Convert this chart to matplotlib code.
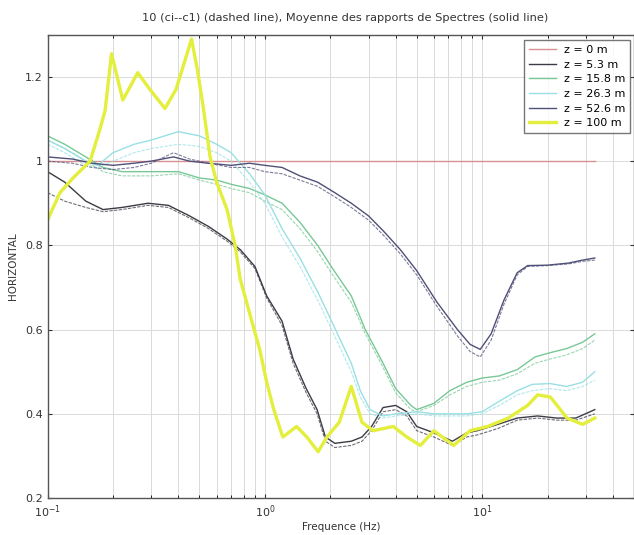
import numpy as np
from matplotlib import pyplot as plt
from matplotlib.ticker import LogLocator, NullFormatter, FixedLocator

# z = 0 m (reference, flat)
f_z0 = [0.1, 33]
v_z0 = [1.0, 1.0]

# z = 5.3 m
f_z5 = [0.1, 0.12, 0.15, 0.18, 0.22, 0.29, 0.36, 0.45, 0.55, 0.67, 0.77, 0.9, 1.02, 1.2, 1.35,
        1.55, 1.74, 1.9, 2.1, 2.5, 2.8, 3.1, 3.5, 4.0, 4.5, 5.0, 6.0, 7.3, 8.5, 9.5, 11.8, 14.5,
        18, 22, 27, 33]
v_z5 = [0.975, 0.95, 0.905, 0.885, 0.89, 0.90, 0.895, 0.87, 0.845, 0.815, 0.79, 0.75, 0.68, 0.62,
        0.53, 0.46, 0.41, 0.345, 0.33, 0.335, 0.345, 0.37, 0.415, 0.42, 0.405, 0.37, 0.355, 0.335,
        0.355, 0.36, 0.375, 0.39, 0.395, 0.39, 0.39, 0.41]
d_z5 = [0.925, 0.905, 0.89, 0.88, 0.885, 0.895, 0.89, 0.865, 0.84, 0.81, 0.785, 0.745, 0.675, 0.61,
        0.52, 0.45, 0.40, 0.335, 0.32, 0.325, 0.335, 0.36, 0.405, 0.41, 0.395, 0.36, 0.345, 0.325,
        0.345, 0.35, 0.365, 0.385, 0.39, 0.385, 0.385, 0.40]

# z = 15.8 m
f_z15 = [0.1, 0.12, 0.15, 0.18, 0.22, 0.3, 0.4, 0.5, 0.6, 0.7, 0.85, 1.0, 1.2, 1.45, 1.75, 2.05,
         2.5, 2.9, 3.5, 4.0, 4.7, 5.0, 6.0, 7.1, 8.5, 10, 12, 14.5, 17.5, 20.5, 24.5, 29, 33]
v_z15 = [1.06, 1.04, 1.01, 0.985, 0.975, 0.975, 0.975, 0.96, 0.955, 0.945, 0.935, 0.92, 0.90, 0.855,
         0.80, 0.745, 0.68, 0.60, 0.52, 0.46, 0.42, 0.41, 0.425, 0.455, 0.475, 0.485, 0.49, 0.505,
         0.535, 0.545, 0.555, 0.57, 0.59]
d_z15 = [1.05, 1.03, 1.0, 0.975, 0.965, 0.965, 0.97, 0.955, 0.945, 0.935, 0.925, 0.905, 0.885, 0.84,
         0.785, 0.73, 0.665, 0.59, 0.51, 0.45, 0.41, 0.405, 0.42, 0.445, 0.465, 0.475, 0.48, 0.495,
         0.52, 0.53, 0.54, 0.555, 0.575]

# z = 26.3 m
f_z26 = [0.1, 0.12, 0.15, 0.17, 0.2, 0.25, 0.3, 0.4, 0.5, 0.6, 0.7, 0.85, 1.0, 1.2, 1.45, 1.75,
         2.05, 2.5, 2.75, 3.05, 3.5, 4.0, 5.0, 6.0, 7.0, 8.5, 10, 12, 14.5, 17, 20.5, 24.5, 29, 33]
v_z26 = [1.05, 1.03, 1.0, 0.99, 1.02, 1.04, 1.05, 1.07, 1.06, 1.04, 1.02, 0.97, 0.92, 0.84, 0.77,
         0.69, 0.615, 0.52, 0.455, 0.41, 0.395, 0.40, 0.405, 0.40, 0.40, 0.40, 0.405, 0.43, 0.455,
         0.47, 0.472, 0.465, 0.475, 0.50]
d_z26 = [1.04, 1.02, 0.99, 0.985, 1.0, 1.02, 1.03, 1.04, 1.035, 1.02, 1.0, 0.95, 0.90, 0.82, 0.75,
         0.67, 0.595, 0.50, 0.44, 0.40, 0.39, 0.395, 0.40, 0.395, 0.395, 0.395, 0.40, 0.42, 0.445,
         0.455, 0.46, 0.455, 0.465, 0.48]

# z = 52.6 m
f_z52 = [0.1, 0.13, 0.16, 0.2, 0.25, 0.3, 0.38, 0.45, 0.55, 0.7, 0.85, 1.0, 1.2, 1.45, 1.75, 2.1,
         2.5, 3.0, 3.5, 4.2, 5.0, 6.2, 7.7, 8.8, 9.8, 11, 12.6, 14.5, 16.2, 20, 25, 29, 33]
v_z52 = [1.01, 1.005, 0.995, 0.99, 0.995, 1.0, 1.01, 1.0, 0.995, 0.99, 0.995, 0.99, 0.985, 0.965,
         0.95, 0.925, 0.90, 0.87, 0.835, 0.79, 0.74, 0.665, 0.60, 0.565, 0.553, 0.59, 0.67, 0.735,
         0.752, 0.753, 0.758, 0.765, 0.77]
d_z52 = [1.0, 0.995, 0.985, 0.98, 0.985, 0.995, 1.02, 1.005, 0.995, 0.985, 0.985, 0.975, 0.97, 0.955,
         0.94, 0.915, 0.89, 0.86, 0.825, 0.78, 0.73, 0.655, 0.585, 0.548, 0.535, 0.575, 0.66, 0.73,
         0.75, 0.752, 0.756, 0.762, 0.765]

# z = 100 m
f_z100 = [0.1, 0.114, 0.131, 0.157, 0.174, 0.184, 0.197, 0.222, 0.26, 0.296, 0.347, 0.39, 0.46,
          0.49, 0.52, 0.56, 0.6, 0.67, 0.73, 0.77, 0.85, 0.95, 1.02, 1.1, 1.21, 1.4, 1.56, 1.76,
          1.93, 2.2, 2.5, 2.8, 3.15, 3.9, 4.5, 5.2, 6.0, 7.4, 8.8, 10.6, 13.2, 16.2, 18, 20.6,
          24.6, 29, 33]
v_z100 = [0.86, 0.925, 0.96, 1.0, 1.075, 1.12, 1.255, 1.145, 1.21, 1.17, 1.125, 1.17, 1.29, 1.215,
          1.13, 1.01, 0.95, 0.885, 0.80, 0.72, 0.64, 0.55, 0.475, 0.41, 0.345, 0.37, 0.345, 0.31,
          0.345, 0.38, 0.465, 0.38, 0.36, 0.37, 0.345, 0.325, 0.36, 0.325, 0.36, 0.37, 0.39, 0.42,
          0.445, 0.44, 0.39, 0.375, 0.39]

labels = ['z = 0 m', 'z = 5.3 m', 'z = 15.8 m', 'z = 26.3 m', 'z = 52.6 m', 'z = 100 m']
colors = ['#d89090', '#3c3c46', '#78c896', '#98e0e4', '#505078', '#e4ee3c']

fig = plt.figure(figsize=(6.34, 5.35), dpi=100)
ax = fig.add_axes([0.075, 0.069, 0.925, 0.866])

series = [(f_z0, v_z0, None), (f_z5, v_z5, d_z5), (f_z15, v_z15, d_z15),
          (f_z26, v_z26, d_z26), (f_z52, v_z52, d_z52), (f_z100, v_z100, None)]

for (f, v, d), lab, c in zip(series, labels, colors):
    lw = 2.4 if lab == 'z = 100 m' else 1.0
    if d is not None:
        ax.plot(f, d, color=c, lw=0.8, ls=(0, (3, 1.2)), alpha=0.75)
    ax.plot(f, v, color=c, lw=lw, label=lab)

ax.set_xscale('log')
ax.set_xlim(0.1, 50)
ax.set_ylim(0.2, 1.3)
ax.yaxis.set_major_locator(FixedLocator([0.2, 0.4, 0.6, 0.8, 1.0, 1.2]))
ax.set_yticklabels(['0.2', '0.4', '0.6', '0.8', '1', '1.2'])
ax.xaxis.set_major_locator(FixedLocator([0.1, 1, 10]))
ax.set_xticklabels([r'$10^{-1}$', r'$10^{0}$', r'$10^{1}$'])
ax.xaxis.set_minor_locator(LogLocator(base=10, subs=np.arange(2, 10)))
ax.xaxis.set_minor_formatter(NullFormatter())

ax.grid(True, which='major', color='#dadada', lw=0.7)
ax.grid(True, which='minor', axis='x', color='#dadada', lw=0.7)
ax.set_axisbelow(True)

ax.tick_params(direction='in', top=True, right=True, labelsize=8, colors='#333333', length=3)
ax.tick_params(which='minor', direction='in', top=True, length=2)
for s in ax.spines.values():
    s.set_color('#555555')
    s.set_linewidth(1.0)

ax.set_xlabel('Frequence (Hz)', fontsize=7.5, color='#333333')
ax.xaxis.set_label_coords(0.5, -0.052)
ax.set_ylabel('HORIZONTAL', fontsize=7.5, color='#333333')
ax.yaxis.set_label_coords(-0.05, 0.5)
fig.text(345 / 634, 1 - 18 / 535, '10 (ci--c1) (dashed line), Moyenne des rapports de Spectres (solid line)',
         ha='center', va='center', fontsize=8.2, color='#333333')

leg = ax.legend(loc='upper right', bbox_to_anchor=(0.993, 0.989), borderaxespad=0,
                fontsize=8, fancybox=False, edgecolor='#555555', handlelength=2.4,
                labelspacing=0.42, borderpad=0.45, handletextpad=0.7)
leg.get_frame().set_linewidth(1.0)

fig.savefig('out.png', dpi=100)
